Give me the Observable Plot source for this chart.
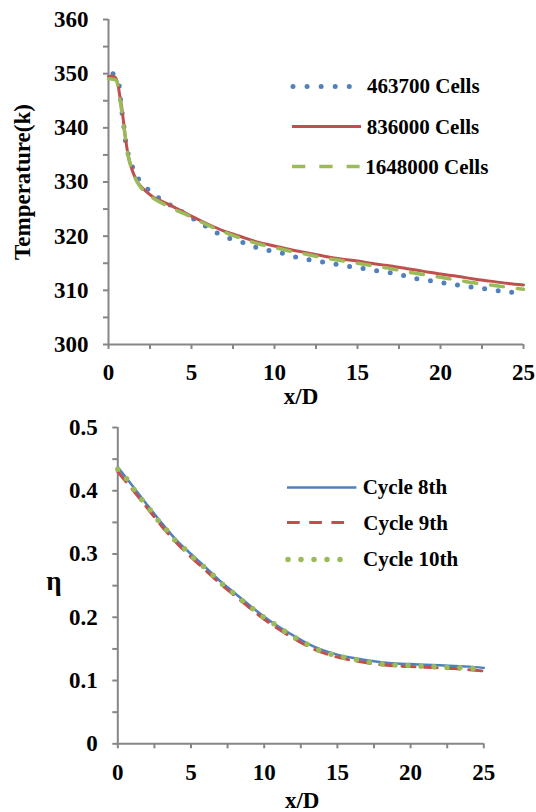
<!DOCTYPE html>
<html><head><meta charset="utf-8">
<script src="https://cdn.jsdelivr.net/npm/d3@7"></script>
<script src="https://cdn.jsdelivr.net/npm/@observablehq/plot@0.6"></script>
<style>
html,body{margin:0;padding:0;background:#fff;overflow:hidden;}
#wrap{position:relative;width:536px;height:812px;overflow:hidden;font-family:"Liberation Serif","DejaVu Serif","Noto Serif",serif;}
#wrap svg{overflow:visible;}
.chart{position:absolute;left:0;}
.row{position:absolute;display:flex;align-items:center;white-space:nowrap;transform:translateY(-50%);font-weight:bold;font-size:21px;color:#000;}
.row svg{display:block;}
</style></head>
<body><div id="wrap"></div>
<script>
// ---------- Top chart: grid independence ----------
const xTicksMajor = [0, 5, 10, 15, 20, 25];
const xTicksMinor = [0, 2.5, 5, 7.5, 10, 12.5, 15, 17.5, 20, 22.5, 25];
const tempTicksMajor = [300, 310, 320, 330, 340, 350, 360];
const tempTicksMinor = [300, 305, 310, 315, 320, 325, 330, 335, 340, 345, 350, 355, 360];
const gridNames = ["463700 Cells", "836000 Cells", "1648000 Cells"];

const g1X = [0.27,0.64,0.72,0.82,0.93,1.03,1.20,1.50,1.87,2.47,3.15,3.87,4.60,5.32,6.04,6.72,7.54,8.35,9.13,9.95,10.78,11.60,12.47,13.29,14.14,14.96,15.78,16.63,17.47,18.27,19.12,19.95,20.77,21.62,22.44,23.29,24.17,25.0];
const g1T = [349.97,347.8,345.3,342.7,340.1,337.5,335.0,332.4,330.3,328.4,326.8,325.5,324.2,322.8,321.5,320.3,319.3,318.6,317.7,317.2,316.6,315.9,315.5,315.0,314.6,314.2,313.8,313.4,313.0,312.3,311.9,311.5,311.1,310.7,310.4,310.0,309.7,309.2];

const g2X = [0,0.4,0.56,0.66,0.77,0.87,0.97,1.07,1.17,1.31,1.51,1.81,2.21,2.71,3.32,3.92,4.73,5.33,6,7,7.5,8,9,10,11,12,13,14,15,16,17,18,19,20,21,22,23,24,25];
const g2T = [349.5,349.35,348.1,346.3,344.4,342.0,339.5,337.1,335.2,333.4,331.5,329.7,328.4,327.2,326.3,325.4,324.1,323.2,322.2,320.9,320.4,319.9,318.9,318.2,317.5,316.9,316.3,315.8,315.4,314.9,314.5,314.0,313.5,313.0,312.6,312.1,311.7,311.3,311.0];

const g3X = [0,0.45,0.6,0.7,0.8,0.9,1.0,1.1,1.2,1.35,1.55,1.85,2.25,2.75,3.35,4,4.75,5.33,6,7,8,9,10,11,12,13,14,15,16,17,18,19,20,21,22,23,24,25];
const g3T = [349.0,348.8,347.0,345.0,343.0,340.8,338.5,336.4,334.6,332.8,331.1,329.4,328.0,326.9,325.9,324.9,323.9,323.0,322.0,320.7,319.6,318.6,317.9,317.2,316.6,316.0,315.5,315.0,314.5,314.0,313.4,312.9,312.4,311.9,311.4,311.0,310.6,310.2];

// ---------- Bottom chart: cycle independence ----------
const etaTicksMajor = [0, 0.1, 0.2, 0.3, 0.4, 0.5];
const etaTicksMinor = [0, 0.05, 0.1, 0.15, 0.2, 0.25, 0.3, 0.35, 0.4, 0.45, 0.5];
const cycleNames = ["Cycle 8th", "Cycle 9th", "Cycle 10th"];

const c8X = [0,1,2,3,4,5,6,7,8,9,10,11,12,13,14,15,16,17,18,19,20,21,22,23,24,25];
const c8Eta = [0.437,0.408,0.378,0.349,0.322,0.300,0.279,0.257,0.238,0.219,0.201,0.185,0.171,0.158,0.148,0.141,0.136,0.132,0.129,0.127,0.126,0.125,0.124,0.123,0.122,0.120];

const c9X = [0,1,2,3,4,5,6,7,8,9,10,11,12,13,14,15,16,17,18,19,20,21,22,23,24,25];
const c9Eta = [0.430,0.402,0.373,0.344,0.318,0.295,0.274,0.253,0.234,0.215,0.197,0.181,0.167,0.154,0.144,0.137,0.132,0.128,0.125,0.123,0.122,0.121,0.120,0.119,0.117,0.115];

const c10X = [0,0.59,1.10,1.63,2.20,2.73,3.29,3.85,4.49,5.07,5.77,6.40,7.06,7.75,8.41,9.09,9.79,10.51,11.26,11.96,12.73,13.52,14.37,15.21,16.05,16.94,17.80,18.69,19.55,20.42,21.26,22.12,23.01,23.87,24.76];
const c10Eta = [0.434,0.419,0.402,0.386,0.370,0.354,0.339,0.323,0.310,0.296,0.282,0.269,0.254,0.241,0.228,0.216,0.203,0.192,0.180,0.170,0.160,0.150,0.143,0.138,0.134,0.130,0.127,0.125,0.124,0.123,0.122,0.121,0.120,0.120,0.117];

// ---------- build ----------
const BLUE = "#4F81BD", RED = "#C0504D", GREEN = "#9BBB59", AXIS = "#868686";
const FONT = "Liberation Serif, DejaVu Serif, Noto Serif, serif";
const zipXY = (xs, ys) => xs.map((x, i) => ({x, y: ys[i]}));

const s1 = zipXY(g1X, g1T), s2 = zipXY(g2X, g2T), s3 = zipXY(g3X, g3T);
const b1 = zipXY(c8X, c8Eta), b2 = zipXY(c9X, c9Eta), b3 = zipXY(c10X, c10Eta);

const baseStyle = {fontFamily: FONT, fontSize: "23px", fontWeight: "bold", color: "#000", background: "transparent", overflow: "visible"};

const topChart = Plot.plot({
  width: 536, height: 400,
  marginLeft: 108, marginRight: 13, marginTop: 19, marginBottom: 56,
  x: {domain: [0, 25]},
  y: {domain: [300, 360]},
  style: baseStyle,
  marks: [
    Plot.ruleX([0], {stroke: AXIS, strokeWidth: 2}),
    Plot.ruleY([300], {stroke: AXIS, strokeWidth: 2}),
    Plot.axisX(xTicksMinor, {tickSize: 5, tickFormat: () => "", stroke: AXIS, strokeWidth: 2, label: null}),
    Plot.axisX(xTicksMajor, {tickSize: 0, tickPadding: 19, label: null, fill: "#000", tickFormat: d => String(d)}),
    Plot.axisY(tempTicksMinor, {tickSize: 5, tickFormat: () => "", stroke: AXIS, strokeWidth: 2, label: null}),
    Plot.axisY(tempTicksMajor, {tickSize: 0, tickPadding: 20, label: null, fill: "#000", tickFormat: d => String(d)}),
    Plot.line(s1, {x: "x", y: "y", stroke: BLUE, strokeWidth: 5, strokeDasharray: "0 13.7", strokeLinecap: "round", curve: "catmull-rom"}),
    Plot.line(s2, {x: "x", y: "y", stroke: RED, strokeWidth: 3, curve: "catmull-rom"}),
    Plot.line(s3, {x: "x", y: "y", stroke: GREEN, strokeWidth: 3.5, strokeDasharray: "13 14", curve: "catmull-rom"}),
    Plot.text(["Temperature(k)"], {text: d => d, frameAnchor: "left", textAnchor: "middle", lineAnchor: "middle", dx: -86, rotate: -90, fontSize: 23}),
    Plot.text(["x/D"], {text: d => d, frameAnchor: "bottom", textAnchor: "middle", lineAnchor: "middle", dx: -15, dy: 52, fontSize: 23})
  ]
});
topChart.classList.add("chart");
topChart.style.top = "0px";

const botChart = Plot.plot({
  width: 536, height: 412,
  marginLeft: 117.3, marginRight: 52.7, marginTop: 27, marginBottom: 68.7,
  x: {domain: [0, 25]},
  y: {domain: [0, 0.5]},
  style: baseStyle,
  marks: [
    Plot.ruleX([0], {stroke: AXIS, strokeWidth: 2}),
    Plot.ruleY([0], {stroke: AXIS, strokeWidth: 2}),
    Plot.axisX(xTicksMinor, {tickSize: 5, tickFormat: () => "", stroke: AXIS, strokeWidth: 2, label: null}),
    Plot.axisX(xTicksMajor, {tickSize: 0, tickPadding: 20, label: null, fill: "#000", tickFormat: d => String(d)}),
    Plot.axisY(etaTicksMinor, {tickSize: 5, tickFormat: () => "", stroke: AXIS, strokeWidth: 2, label: null}),
    Plot.axisY(etaTicksMajor, {tickSize: 0, tickPadding: 20, label: null, fill: "#000", tickFormat: d => String(d)}),
    Plot.line(b1, {x: "x", y: "y", stroke: BLUE, strokeWidth: 2.5, curve: "catmull-rom"}),
    Plot.line(b2, {x: "x", y: "y", stroke: RED, strokeWidth: 3, strokeDasharray: "13 9.3", curve: "catmull-rom"}),
    Plot.line(b3, {x: "x", y: "y", stroke: GREEN, strokeWidth: 5.5, strokeDasharray: "0 13", strokeLinecap: "round", curve: "catmull-rom"}),
    Plot.text(["η"], {text: d => d, frameAnchor: "left", textAnchor: "middle", lineAnchor: "middle", dx: -64, dy: -4, fontSize: 27}),
    Plot.text(["x/D"], {text: d => d, frameAnchor: "bottom", textAnchor: "middle", lineAnchor: "middle", dx: 1.4, dy: 56.7, fontSize: 23})
  ]
});
botChart.classList.add("chart");
botChart.style.top = "400px";

const wrap = document.getElementById("wrap");
wrap.appendChild(topChart);
wrap.appendChild(botChart);

// ---------- legends (HTML overlays) ----------
function legendRow(left, top, swatchW, color, width, dash, cap, label, gap) {
  const row = document.createElement("div");
  row.className = "row";
  row.style.left = left + "px";
  row.style.top = top + "px";
  const ns = "http://www.w3.org/2000/svg";
  const svg = document.createElementNS(ns, "svg");
  svg.setAttribute("width", swatchW + 6);
  svg.setAttribute("height", 12);
  const ln = document.createElementNS(ns, "line");
  ln.setAttribute("x1", 3); ln.setAttribute("x2", swatchW + 3);
  ln.setAttribute("y1", 6); ln.setAttribute("y2", 6);
  ln.setAttribute("stroke", color);
  ln.setAttribute("stroke-width", width);
  if (dash) ln.setAttribute("stroke-dasharray", dash);
  ln.setAttribute("stroke-linecap", cap || "butt");
  svg.appendChild(ln);
  row.appendChild(svg);
  const t = document.createElement("span");
  t.textContent = label;
  t.style.marginLeft = gap + "px";
  row.appendChild(t);
  wrap.appendChild(row);
}
// top legend
legendRow(289.7, 86, 56.3, BLUE, 5, "0 14.07", "round", gridNames[0], 15);
legendRow(288.7, 126.7, 69, RED, 3, null, "butt", gridNames[1], 3);
legendRow(288.7, 166.7, 67.6, GREEN, 3.5, "13.3 14", "butt", gridNames[2], 3);
// bottom legend
legendRow(284.3, 487.3, 69.4, BLUE, 2.5, null, "butt", cycleNames[0], 3);
legendRow(284.3, 522.7, 57, RED, 3, "12.7 9.5", "butt", cycleNames[1], 16);
legendRow(285, 559.3, 65, GREEN, 5.5, "0 13", "round", cycleNames[2], 7);
</script>
</body></html>
